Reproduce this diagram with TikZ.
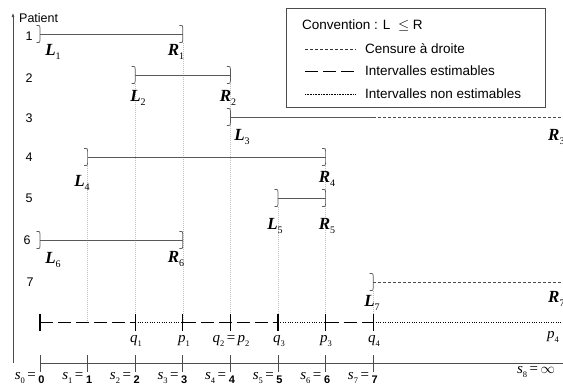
\documentclass[tikz,border=0pt]{standalone}
\usepackage{fontspec}
\setmainfont{Liberation Sans}
\newfontfamily\tnr{Liberation Serif}
\usetikzlibrary{arrows.meta}
\newcommand\lab[2]{{\tnr\bfseries\itshape #1}\raisebox{-0.4ex}{\tnr\fontsize{10}{10}\selectfont #2}}
\newcommand\mlab[2]{{\tnr\itshape #1}\raisebox{-0.4ex}{\tnr\fontsize{8.5}{8.5}\selectfont #2}}
\tikzset{
  ival/.style={draw=black!65, line width=0.7pt},
  cens/.style={draw=black!70, line width=0.6pt, dash pattern=on 3pt off 2pt},
  est/.style={draw=black, line width=1pt, dash pattern=on 13pt off 5pt},
  nonest/.style={draw=black, line width=0.9pt, dash pattern=on 1pt off 1.4pt},
  guide/.style={draw=black!25, line width=0.6pt, dash pattern=on 1pt off 1pt},
  tick/.style={draw=black, line width=1.2pt},
  axis/.style={draw=black!70, line width=0.7pt},
  Llab/.style={font=\fontsize{17}{17}\selectfont, inner sep=0pt},
  Mlab/.style={font=\fontsize{15}{15}\selectfont, inner sep=0pt},
  rowlab/.style={font=\fontsize{12.5}{12.5}\selectfont, inner sep=0pt},
  txt/.style={font=\fontsize{13.5}{13.5}\selectfont, inner sep=0pt, anchor=west},
  brk/.pic={\draw[draw=black!65, line width=0.7pt] (-3.5,-8.5) .. controls (0,-8.5) .. (0,-6) -- (0,6) .. controls (0,8.5) .. (-3.5,8.5);}
}
\begin{document}
\begin{tikzpicture}[x=1pt,y=-1pt]
\useasboundingbox (0,0) rectangle (563,386);
% x positions
\def\xa{40}\def\xb{87.6}\def\xc{135.2}\def\xd{182.8}\def\xe{230.4}\def\xf{278}\def\xg{325.6}\def\xh{373.2}
% guides
\draw[guide] (\xb,166) -- (\xb,322);
\draw[guide] (\xc,84) -- (\xc,322);
\draw[guide] (\xd,43) -- (\xd,322);
\draw[guide] (\xe,84) -- (\xe,322);
\draw[guide] (\xf,207) -- (\xf,322);
\draw[guide] (\xg,166) -- (\xg,322);
\draw[guide] (\xh,291) -- (\xh,322);
% vertical axis
\draw[axis, -{Latex[length=4pt,width=3pt]}] (13,363) -- (13,13);
\node[rowlab, anchor=west] (pat) at (19,18) {Patient};
% row labels
\node[rowlab] (r1) at (29,36) {1};
\node[rowlab] (r2) at (29,78) {2};
\node[rowlab] (r3) at (29,118) {3};
\node[rowlab] (r4) at (29,157) {4};
\node[rowlab] (r5) at (29,198) {5};
\node[rowlab] (r6) at (27,240) {6};
\node[rowlab] (r7) at (30,282) {7};
% intervals
\draw[ival] (\xa,34) -- (\xd,34);
\pic at (\xa,34) {brk}; \pic at (\xd,34) {brk};
\draw[ival] (\xc,75) -- (\xe,75);
\pic at (\xc,75) {brk}; \pic at (\xe,75) {brk};
\draw[ival] (\xe,117) -- (\xh,117);
\draw[cens] (\xh,117) -- (563,117);
\pic at (\xe,117) {brk};
\draw[ival] (\xb,157) -- (\xg,157);
\pic at (\xb,157) {brk}; \pic at (\xg,157) {brk};
\draw[ival] (\xf,198) -- (\xg,198);
\pic at (\xf,198) {brk}; \pic at (\xg,198) {brk};
\draw[ival] (\xa,240) -- (\xd,240);
\pic at (\xa,240) {brk}; \pic at (\xd,240) {brk};
\draw[cens] (\xh,282) -- (563,282);
\pic at (\xh,282) {brk};
% L / R labels
\node[Llab] (L1) at (53,52) {\lab{L}{1}};
\node[Llab] (R1) at (176,52) {\lab{R}{1}};
\node[Llab] (L2) at (138,98) {\lab{L}{2}};
\node[Llab] (R2) at (228,98) {\lab{R}{2}};
\node[Llab] (L3) at (242,137) {\lab{L}{3}};
\node[Llab, anchor=west] (R3) at (548,137) {\lab{R}{3}};
\node[Llab] (L4) at (82,183) {\lab{L}{4}};
\node[Llab] (R4) at (327,179) {\lab{R}{4}};
\node[Llab] (L5) at (275,226) {\lab{L}{5}};
\node[Llab] (R5) at (327,226) {\lab{R}{5}};
\node[Llab] (L6) at (53,260) {\lab{L}{6}};
\node[Llab] (R6) at (176,259) {\lab{R}{6}};
\node[Llab] (L7) at (372,303) {\lab{L}{7}};
\node[Llab, anchor=west] (R7) at (548,299) {\lab{R}{7}};
% estimation line
\draw[est] (\xa,322) -- (\xc,322);
\draw[nonest] (\xc,322) -- (\xd,322);
\draw[est] (\xd,322) -- (\xf,322);
\draw[nonest] (\xf,322) -- (\xg,322);
\draw[est] (\xg,322) -- (\xh,322);
\draw[nonest] (\xh,322) -- (563,322);
\draw[tick, line width=1.6pt] (\xa,314) -- (\xa,331);
\foreach \x in {\xc,\xd,\xe,\xf,\xg,\xh} \draw[tick] (\x,314) -- (\x,331);
\node[Mlab] (q1) at (136,341) {\mlab{q}{1}};
\node[Mlab] (p1) at (184,341) {\mlab{p}{1}};
\node[Mlab] (q2) at (231,341) {\mlab{q}{2}\,{\tnr=}\,\mlab{p}{2}};
\node[Mlab] (q3) at (279,341) {\mlab{q}{3}};
\node[Mlab] (p3) at (326,341) {\mlab{p}{3}};
\node[Mlab] (q4) at (374,341) {\mlab{q}{4}};
\node[Mlab] (p4) at (553,337) {\mlab{p}{4}};
% bottom axis
\draw[axis] (\xa,363) -- (563,363);
\foreach \x in {\xa,\xb,\xc,\xd,\xe,\xf,\xg,\xh} \draw[axis] (\x,355) -- (\x,372);
\foreach \i/\x in {0/\xa,1/\xb,2/\xc,3/\xd,4/\xe,5/\xf,6/\xg,7/\xh}{
  \node[Mlab, anchor=east] (s\i) at (\x-4,378) {\mlab{s}{\i}\,{\tnr\fontsize{15}{15}\selectfont=}};
  \node[inner sep=0pt, font=\fontsize{11}{11}\selectfont\bfseries] (v\i) at (\x+1.5,379.5) {\i};
}
\node[Mlab] (s8) at (536,372) {\mlab{s}{8}\,{\tnr=\,$\infty$}};
% legend
\draw[draw=black!70, line width=0.7pt] (286,8) rectangle (545,107);
\node[txt] (conv) at (302,26) {Convention : L \ {\tnr$\leq$} R};
\draw[cens, draw=black!80] (305,49) -- (356,49);
\node[txt] (t1) at (365,49) {Censure à droite};
\draw[est, dash pattern=on 13pt off 5pt] (305,71) -- (356,71);
\node[txt] (t2) at (365,71) {Intervalles estimables};
\draw[nonest, line width=0.6pt, dash pattern=on 0.6pt off 1pt] (305,94) -- (356,94);
\node[txt] (t3) at (365,94) {Intervalles non estimables};
\end{tikzpicture}
\end{document}
